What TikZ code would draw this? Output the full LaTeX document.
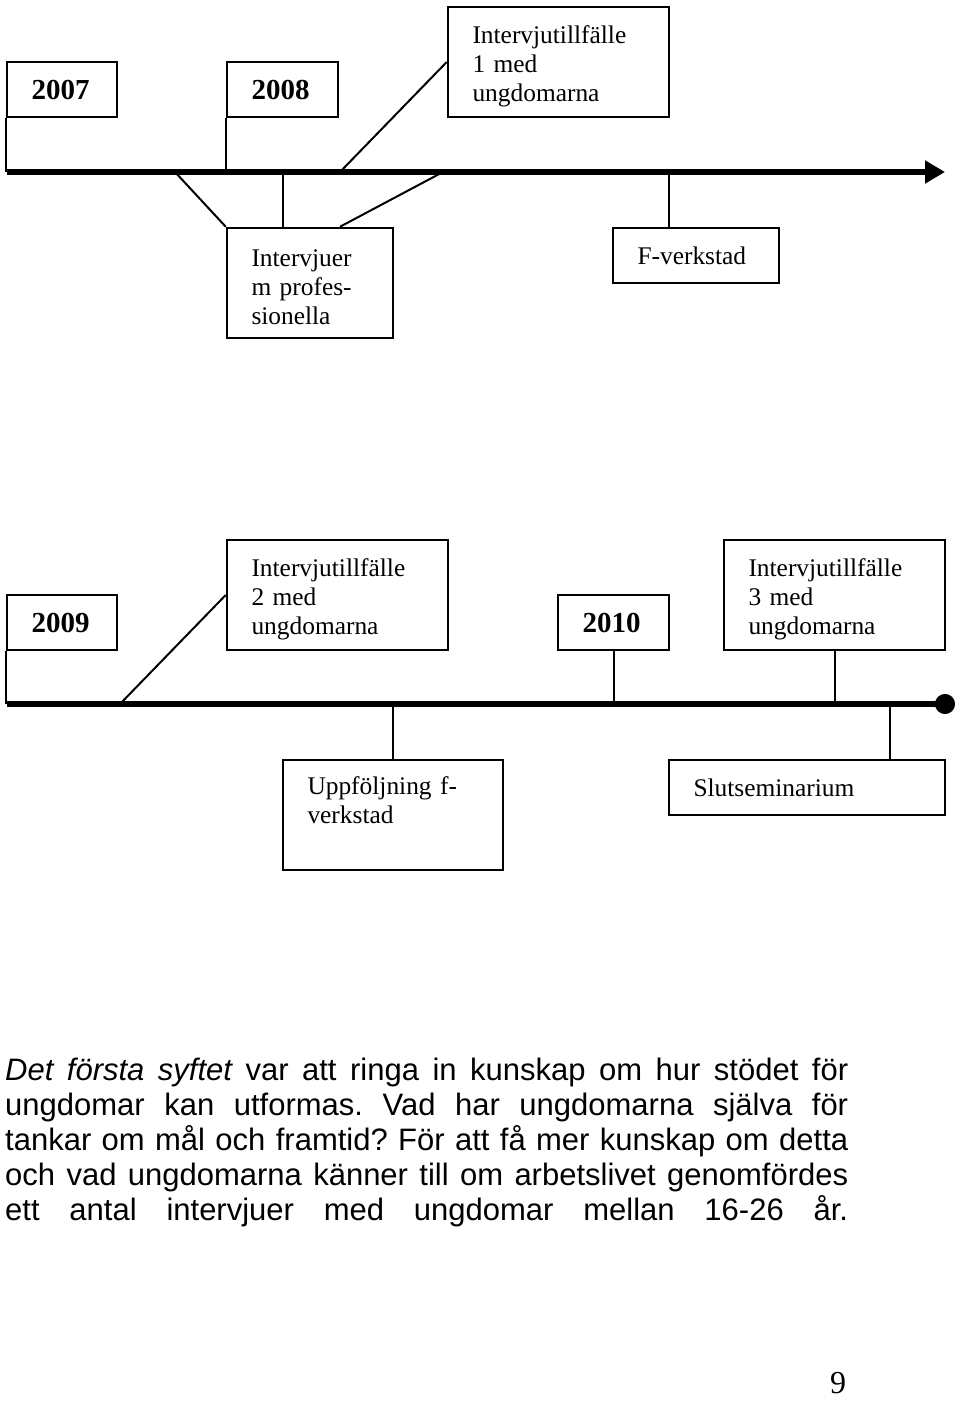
\documentclass[tikz,border=0pt]{standalone}
\usepackage{fontspec}
\setmainfont{Liberation Serif}
\setsansfont{Liberation Sans}
\usetikzlibrary{arrows.meta,positioning}

\newcommand{\boxfont}{\fontsize{25.4}{29}\selectfont}
\newcommand{\yearfont}{\fontsize{29}{29}\selectfont\bfseries}
\newcommand{\bodyfont}{\fontsize{31}{35}\selectfont\sffamily\frenchspacing}

\begin{document}
\begin{tikzpicture}[x=1pt,y=-1pt,
  evbox/.style 2 args={draw, line width=2.5pt, inner xsep=24.5pt, inner ysep=4pt,
    align=left, font=\boxfont, text width=#1pt-49pt, minimum height=#2pt},
  yearbox/.style={evbox={#1}{55}, font=\yearfont},
  threeline/.style={text height=26pt},
  link/.style={line width=2pt},
  timeline/.style={line width=6.5pt}]

\useasboundingbox (0,0) rectangle (960,1402);

% 2007--2008
\node[yearbox=110]      (y2007) at (62,89.5)    {2007};
\node[yearbox=111]      (y2008) at (282.5,89.5) {2008};
\node[evbox={221}{110}, threeline] (ivt1) at (558.5,62) {Intervjutillfälle\\1 med\\ungdomarna};
\node[evbox={166}{110}, threeline] (ivj)  at (310,283)  {Intervjuer\\m profes-\\sionella};
\node[evbox={166}{55}]  (fv)    at (696,255.5)  {F-verkstad};

\coordinate (t1s) at (7,172);
\coordinate (t1e) at (945,172);
\coordinate (ia)  at (340,172);
\coordinate (ib1) at (175,172);
\coordinate (ib2) at (283,172);
\coordinate (ib3) at (443,172);
\coordinate (fa)  at (669,172);

\draw[link] (y2007.south west) -- (y2007.south west |- t1s);
\draw[link] (y2008.south west) -- (y2008.south west |- t1s);
\draw[link] (ivt1.west) -- (ia);
\draw[link] (ib1) -- (ivj.north west);
\draw[link] (ib2) -- (ib2 |- ivj.north);
\draw[link] (ib3) -- (ia |- ivj.north);
\draw[link] (fa) -- (fa |- fv.north);
\draw[timeline,-{Triangle[length=20pt,width=22pt]}] (t1s) -- (t1e);

% 2009--2010
\node[yearbox=110]      (y2009) at (62,622.5)    {2009};
\node[evbox={221}{110}, threeline] (ivt2) at (337.5,595) {Intervjutillfälle\\2 med\\ungdomarna};
\node[yearbox=111]      (y2010) at (613.5,622.5) {2010};
\node[evbox={221}{110}, threeline] (ivt3) at (834.5,595) {Intervjutillfälle\\3 med\\ungdomarna};
\node[evbox={220}{110}, text height=18pt, text depth=60pt]
                        (upp)   at (393,815)     {Uppföljning f-\\verkstad};
\node[evbox={276}{55}]  (slut)  at (807,787.5)   {Slutseminarium};

\coordinate (t2s) at (7,704);
\coordinate (t2e) at (955,704);
\coordinate (ma)  at (120,704);
\coordinate (sa)  at (890,704);

\draw[link] (y2009.south west) -- (y2009.south west |- t2s);
\draw[link] (ivt2.west) -- (ma);
\draw[link] (y2010.south) -- (y2010.south |- t2s);
\draw[link] (ivt3.south) -- (ivt3.south |- t2s);
\draw[link] (upp.north) -- (upp.north |- t2s);
\draw[link] (sa) -- (sa |- slut.north);
\draw[timeline,-{Circle[length=20pt]}] (t2s) -- (t2e);

% text under the figure
\node[anchor=base west, inner sep=0pt, text width=843pt, align=justify, font=\bodyfont]
  (syfte) at (5,1080) {%
  {\itshape Det första syftet} var att ringa in kunskap om hur stödet för\linebreak
  ungdomar kan utformas. Vad har ungdomarna själva för\linebreak
  tankar om mål och framtid? För att få mer kunskap om detta\linebreak
  och vad ungdomarna känner till om arbetslivet genomfördes\linebreak
  ett antal intervjuer med ungdomar mellan 16-26 år.\parfillskip=0pt\par};

\node[anchor=base, font=\fontsize{32}{34}\selectfont] (sida) at (838,1393) {9};

\end{tikzpicture}
\end{document}
